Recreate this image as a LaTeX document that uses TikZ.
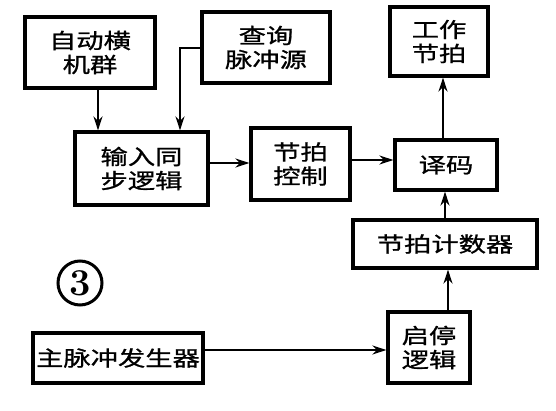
\documentclass[tikz,border=0pt]{standalone}
\usepackage{fontspec}
\newfontfamily\cjk[FakeStretch=1.3,FakeBold=1]{Noto Sans CJK SC}
\usetikzlibrary{arrows.meta}
\begin{document}
\begin{tikzpicture}[x=1pt,y=-1pt,
  blk/.style={draw,line width=3.2pt,fill=white,inner sep=0pt,align=center,
    font=\cjk\fontsize{21}{24}\selectfont},
  arr/.style={line width=2.2pt,-{Stealth[length=14pt,width=9pt]}}]
\useasboundingbox (0,0) rectangle (556,411);
\node[blk,minimum width=130pt,minimum height=71pt] (A) at (90,52.5) {自动横\\机群};
\node[blk,minimum width=128pt,minimum height=71pt] (B) at (266,47.5) {查询\\脉冲源};
\node[blk,minimum width=98pt,minimum height=69pt] (C) at (439,41.5) {工作\\节拍};
\node[blk,minimum width=133pt,minimum height=73pt] (D) at (141.5,168.5) {输入同\\步逻辑};
\node[blk,minimum width=99pt,minimum height=72pt] (E) at (300.5,164) {节拍\\控制};
\node[blk,minimum width=102pt,minimum height=50pt] (F) at (446,165) {译码};
\node[blk,minimum width=184pt,minimum height=48pt] (G) at (445,244) {节拍计数器};
\node[blk,minimum width=170pt,minimum height=50pt] (H) at (118,358) {主脉冲发生器};
\node[blk,minimum width=82pt,minimum height=71pt] (I) at (429,347.5) {启停\\逻辑};
\node[draw,circle,line width=3pt,minimum size=44pt,inner sep=0pt,
  font=\bfseries\fontsize{38}{38}\selectfont] (N) at (80,283) {3};
\coordinate (bc) at (180,48);
\draw[arr] (A.south -| 98,0) -- (D.north -| 98,0);
\draw[arr] (B.west |- bc) -- (bc) -- (D.north -| bc);
\draw[arr] (D.east |- 0,163) -- (E.west |- 0,163);
\draw[arr] (E.east |- 0,160) -- (F.west |- 0,160);
\draw[arr] (F.north -| 443,0) -- (C.south -| 443,0);
\draw[arr] (G.north -| 445,0) -- (F.south -| 445,0);
\draw[arr] (I.north -| 448,0) -- (G.south -| 448,0);
\draw[arr] (H.east |- 0,350) -- (I.west |- 0,350);
\end{tikzpicture}
\end{document}
